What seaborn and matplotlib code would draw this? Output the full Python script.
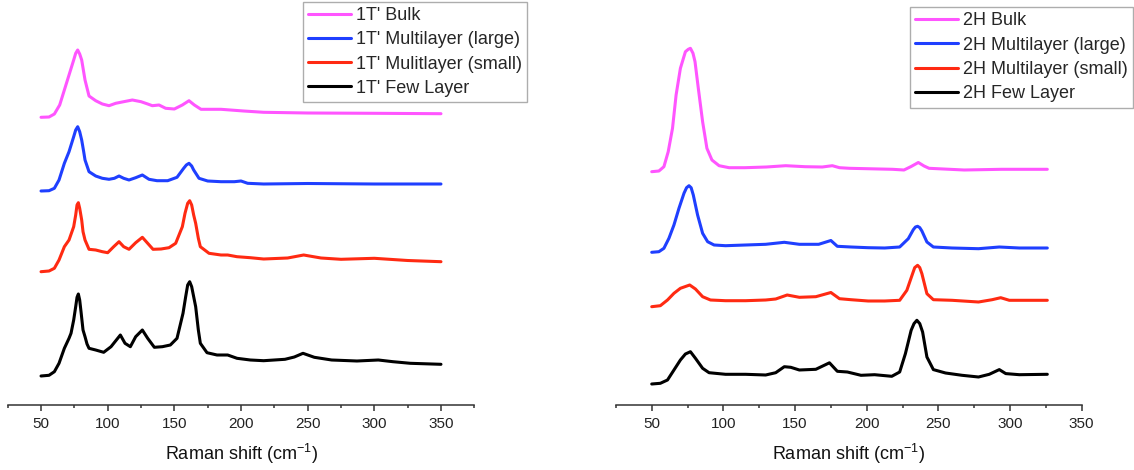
import numpy as np
import pandas as pd
import matplotlib
matplotlib.use('Agg')
import matplotlib.pyplot as plt
import seaborn as sns

# ---- данные (интенсивность в условных единицах) ----
# левая панель: 1T'
t_bulk_x = [50, 56, 60, 64, 67.5, 71, 74.5, 76, 77.5, 79, 80.5, 83, 86, 91, 96, 101, 106, 112, 118.5, 125,
            130, 133.5, 138.5, 143.5, 150, 156, 161, 165, 170, 177, 185, 192, 202, 217, 250, 300, 350]
t_bulk_y = [287.7, 288, 291, 300, 315, 330, 345, 351.7, 355, 351, 345, 325, 309, 304.3, 301, 299.3, 301.7,
            303.3, 305, 303.3, 301, 299.3, 300, 296.7, 296, 300, 304.3, 300, 295.7, 295.7, 295.7, 295, 294,
            292.7, 292, 291.7, 291.3]

t_large_x = [50, 56, 60, 63.5, 67.5, 71, 74.5, 76, 77.5, 79, 80.5, 82, 83, 86, 91, 96, 101, 105, 108.5, 112,
             116, 121, 126, 131, 137, 145, 152, 157, 159, 161, 163, 164.5, 168.5, 175, 185, 195, 200, 205,
             217, 250, 300, 350]
t_large_y = [214, 214.3, 216.7, 225, 241.7, 253.3, 268.3, 275, 278.3, 273.3, 265, 253.3, 245, 233.3, 229,
             226.7, 225.7, 226.7, 229, 226.7, 225, 227.3, 230, 225.7, 224.3, 224.3, 227.7, 236.7, 240, 241.7,
             239, 235, 226.7, 224, 223.3, 223.3, 224, 221.7, 221, 221.5, 221, 221]

t_small_x = [50, 56, 60, 63.5, 67.5, 71, 74.5, 76, 77, 78, 79, 80.5, 81.5, 83, 86, 91, 96, 100, 104.5, 108.5,
             112, 116, 121, 126, 130, 134, 140, 146, 151, 156, 158, 160, 161.5, 163, 164.5, 166, 168, 169.5,
             176, 185, 190, 197, 207, 217, 235, 247, 260, 275, 300, 325, 350]
t_small_y = [133.3, 134, 136.7, 145, 158.3, 165, 178.3, 190, 200, 202.3, 196.7, 185, 173.3, 165, 155.7, 155,
             153.3, 152.3, 158.3, 163.3, 158.3, 155.7, 162.3, 167.7, 161.7, 155.7, 156, 157.3, 161.7, 178.3,
             191.7, 201.7, 204.3, 200, 190, 181.7, 166.7, 158.3, 151.7, 150, 150, 148.3, 147.3, 146, 147,
             150, 147, 145.7, 146.7, 144.5, 143.3]

t_few_x = [50, 56, 60, 63.5, 67.5, 71, 72.5, 74.5, 76, 77, 78, 79, 80, 81.5, 83, 84.5, 86, 91, 97, 102.5,
           109.5, 113, 117, 121, 126, 130, 135, 141, 147, 152, 156.5, 158.5, 160, 161.5, 163, 164.5, 166, 168,
           169.5, 174.5, 182, 190, 197, 207, 217, 233, 240, 246.5, 255, 268, 287, 303, 314, 327, 350]
t_few_y = [29, 29.7, 33.3, 41.7, 56.7, 66.7, 71.7, 85, 98.3, 107.7, 111, 105, 93.3, 75, 68.3, 61, 56.7, 55,
           52.7, 58.3, 70, 61.7, 58.3, 68.3, 75, 66.7, 57.7, 58.3, 60, 66.7, 91.7, 108.3, 120, 123.3, 118.3,
           108.3, 98.3, 75, 61.7, 52.3, 50, 50, 46.7, 45, 44.3, 45.7, 48, 51.7, 47.7, 45, 44, 45, 43.3,
           41.7, 40.7]

# правая панель: 2H
h_bulk_x = [50, 55, 58.5, 61.5, 64.5, 67, 70, 73.5, 75.5, 77, 78.8, 80.2, 82.5, 85.5, 88.5, 92, 97, 104,
            115, 130, 143.5, 157, 169, 176, 181, 188, 218, 226, 231, 236, 240, 243.5, 268, 294, 326]
h_bulk_y = [233.3, 234, 238.3, 253.3, 276.7, 310, 336.7, 353.3, 355.7, 356.7, 351.7, 343.3, 316.7, 283.3,
            256.7, 245, 239.3, 237.3, 237.3, 238, 239.3, 238.3, 238, 239.3, 237.3, 236.7, 235.7, 235, 238.5,
            242.5, 239, 236.7, 235, 235.7, 235.7]

h_large_x = [50, 55, 58.5, 62, 65.5, 69, 72.5, 74.3, 76, 77.5, 79, 82, 85.5, 89, 93.5, 101.5, 115.5, 129.5,
             142.5, 153, 166.5, 175, 179.5, 189, 201, 212.5, 223, 229, 232.5, 234, 235.5, 237, 238.5, 242,
             246.5, 259.5, 278, 292.5, 306.5, 326]
h_large_y = [152.7, 153.3, 156.7, 166.7, 180, 196.7, 211.7, 217.3, 219.3, 217.3, 210, 190, 171.7, 163.3,
             160, 159.3, 160, 160.7, 162.7, 160.7, 160.7, 164.5, 158.7, 158, 157.3, 157, 158, 166.3, 175.3,
             178, 178.7, 177.4, 174, 163, 158, 157, 156.3, 158, 157, 157]

h_small_x = [50, 56, 61, 65.5, 70, 76.5, 80.5, 85.5, 91, 101.5, 115.5, 129.5, 136.5, 144.5, 153, 164.5,
             175, 181, 189, 201, 212.5, 223, 228, 232, 233.5, 235.5, 237, 238.5, 242, 246.5, 259.5, 278,
             287.5, 293.5, 299.5, 326]
h_small_y = [98.3, 99.3, 105, 111.7, 116.7, 120, 116, 108.3, 105, 104.3, 104.3, 105, 106, 110, 107.7, 108.3,
             112.5, 106.3, 105.3, 104, 104, 104.7, 114.7, 131.3, 137.4, 139.7, 137.4, 131.3, 111.3, 105.3,
             104.7, 103, 105.3, 107.3, 104.7, 104.7]

h_few_x = [50, 56, 61, 65.5, 70, 73.5, 77, 80.5, 85.5, 90, 101.5, 115.5, 129.5, 136.5, 142.5, 147, 153,
           164.5, 174, 179.5, 186.5, 196, 205.5, 217.5, 223, 227, 231, 233, 235, 237, 239, 242, 246.5, 255,
           266.5, 278, 285.5, 292.5, 297, 306.5, 326]
h_few_y = [21, 21.7, 25, 35, 45, 51, 53.3, 46.7, 36.7, 32.3, 30.7, 30.7, 30, 32.3, 38.3, 37.7, 35, 35.7,
           42.2, 33.7, 33, 29.7, 30.3, 28.7, 33, 51.4, 74.7, 81.4, 84.7, 81.4, 73, 48, 35.4, 32, 29.7, 28,
           30.7, 35.4, 31.4, 30.3, 30.7]

t_labels = ["1T' Bulk", "1T' Multilayer (large)", "1T' Mulitlayer (small)", "1T' Few Layer"]
h_labels = ["2H Bulk", "2H Multilayer (large)", "2H Multilayer (small)", "2H Few Layer"]
colors = ['#ff55ff', '#1f3fff', '#ff2a12', '#000000']


def draw_panel(ax, fig, series, labels, xmax, legend_pos):
    """
    Рисует одну панель со смещёнными спектрами
    """
    for (xs, ys), lab, col in zip(series, labels, colors):
        df = pd.DataFrame({'x': xs, 'y': ys})
        sns.lineplot(data=df, x='x', y='y', ax=ax, color=col, lw=2.2, label=lab, sort=False,
                     solid_joinstyle='round', solid_capstyle='round')

    ax.set_xlim(25, xmax)
    ax.set_ylim(0, 405)
    ax.set_xticks(np.arange(50, xmax + 1, 50))
    ax.set_xticks(np.arange(25, xmax + 1, 50), minor=True)
    ax.set_yticks([])
    ax.set_ylabel('')
    ax.set_xlabel('Raman shift (cm$^{-1}$)', fontsize=13, labelpad=8, color='#111111')
    for s in ['top', 'left', 'right']:
        ax.spines[s].set_visible(False)
    ax.spines['bottom'].set_color('#333333')
    ax.spines['bottom'].set_linewidth(1.1)
    ax.tick_params(axis='x', which='major', direction='out', length=4.3, width=1.1,
                   color='#333333', labelsize=11, labelcolor='#222222', pad=4.5)
    ax.tick_params(axis='x', which='minor', direction='out', length=2.4, width=1.1, color='#333333')

    leg = ax.legend(loc='upper left', bbox_to_anchor=legend_pos, bbox_transform=fig.transFigure,
                    borderaxespad=0, fontsize=13, frameon=True, fancybox=False,
                    handlelength=2.35, handletextpad=0.27, labelspacing=0.4, borderpad=0.3)
    leg.get_frame().set_edgecolor('#999999')
    leg.get_frame().set_linewidth(1.0)
    for line in leg.get_lines():
        line.set_linewidth(2.2)


def main():
    sns.set_style('ticks')
    plt.rcParams['font.family'] = ['Liberation Sans', 'DejaVu Sans']
    plt.rcParams['mathtext.fontset'] = 'custom'
    plt.rcParams['mathtext.rm'] = 'Liberation Sans'
    plt.rcParams['mathtext.it'] = 'Liberation Sans'

    W, H = 1134, 470
    fig = plt.figure(figsize=(W / 100, H / 100), dpi=100)
    # оси: 25..375 и 25..350, нижняя линия на высоте 405 px от верха
    ax1 = fig.add_axes([7.7 / W, 65 / H, 466.6 / W, 405 / H])
    ax2 = fig.add_axes([615.9 / W, 65 / H, 465.8 / W, 405 / H])
    ax1.patch.set_alpha(0)
    ax2.patch.set_alpha(0)

    draw_panel(ax1, fig,
               [(t_bulk_x, t_bulk_y), (t_large_x, t_large_y), (t_small_x, t_small_y), (t_few_x, t_few_y)],
               t_labels, 375, (303 / W, 1 - 1.7 / H))
    draw_panel(ax2, fig,
               [(h_bulk_x, h_bulk_y), (h_large_x, h_large_y), (h_small_x, h_small_y), (h_few_x, h_few_y)],
               h_labels, 350, (910 / W, 1 - 7 / H))

    fig.savefig('out.png', dpi=100, facecolor='white')


if __name__ == '__main__':
    main()
